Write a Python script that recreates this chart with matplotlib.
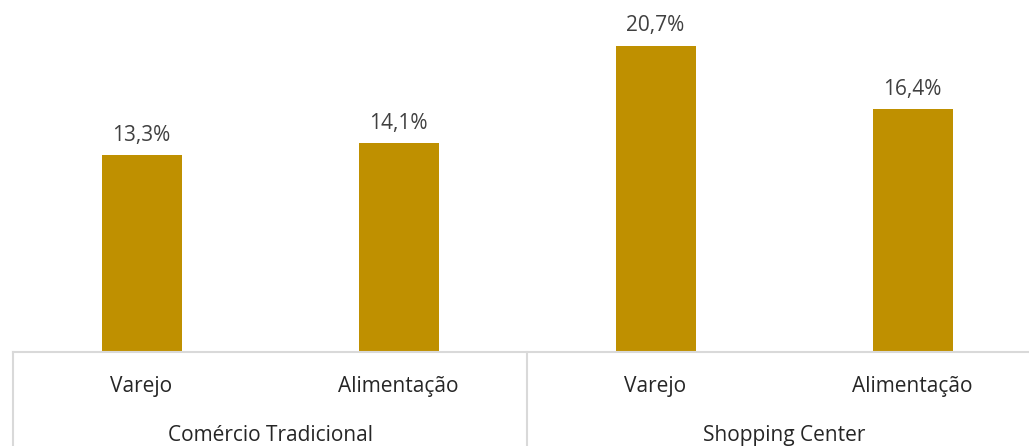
import matplotlib

matplotlib.use("Agg")
import matplotlib.pyplot as plt
from matplotlib.transforms import blended_transform_factory

categories = ["Varejo", "Alimentação", "Varejo", "Alimentação"]
groups = ["Comércio Tradicional", "Shopping Center"]
values = [13.3, 14.1, 20.7, 16.4]
BAR = "#BF9000"
GRID = "#D9D9D9"

plt.rcParams["font.family"] = ["Open Sans", "DejaVu Sans"]
fig = plt.figure(figsize=(10.29, 4.46), dpi=100)
# axis spans 13px..1041px, the right edge runs off the picture
ax = fig.add_axes([13 / 1029, 94 / 446, 1028 / 1029, 352 / 446])

x = range(len(values))
ax.bar(x, values, width=80 / 257, color=BAR)
for i, v in enumerate(values):
    ax.text(i, v + 0.65, ("%.1f%%" % v).replace(".", ","), ha="center", va="bottom",
            fontsize=15, color="#404040")

ax.set_xlim(-0.5, 3.5)
ax.set_ylim(0, 23.8)
ax.set_yticks([])
ax.set_xticks(list(x))
ax.set_xticklabels(categories, fontsize=15, color="#262626")
ax.tick_params(axis="x", length=0, pad=17)
for side in ("top", "right", "left"):
    ax.spines[side].set_visible(False)
ax.spines["bottom"].set_color(GRID)
ax.spines["bottom"].set_linewidth(1.5)

trans = blended_transform_factory(ax.transData, ax.transAxes)
for xs in (-0.5, 1.5, 3.5):
    ax.plot([xs, xs], [0, -0.3], transform=trans, color=GRID, lw=1.5, clip_on=False)
for gi, name in enumerate(groups):
    ax.text(gi * 2 + 0.5, -0.237, name, transform=trans, ha="center", va="center",
            fontsize=15, color="#262626")

fig.savefig("out.png", dpi=100)
